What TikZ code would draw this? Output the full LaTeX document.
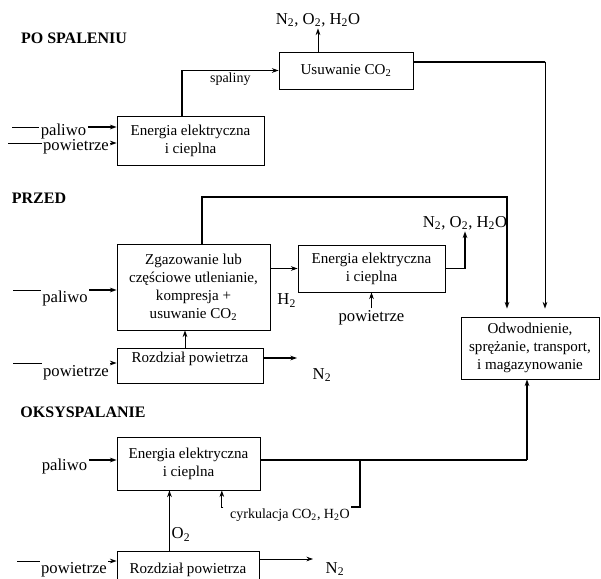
\documentclass[tikz,border=0pt]{standalone}
\usepackage{fontspec}
\setmainfont{Liberation Serif}
\usetikzlibrary{arrows.meta,positioning,calc}

\begin{document}
\begin{tikzpicture}[
  x=0.75pt, y=-0.75pt,
  >={Stealth[length=5pt,width=3.5pt]},
  box/.style={draw, line width=0.6pt, align=center, inner sep=2pt, font=\fontsize{11.3}{13.5}\selectfont},
  lab/.style={inner sep=1pt, font=\fontsize{12.5}{14}\selectfont},
  small/.style={inner sep=1pt, font=\fontsize{10.5}{12}\selectfont},
  title/.style={inner sep=1pt, font=\bfseries\fontsize{12}{14}\selectfont},
  ln/.style={line width=0.6pt},
  heavy/.style={line width=1.4pt}
]
\useasboundingbox (0,0) rectangle (601,579);

% po spaleniu
\node[title] (tpo) at (74,38) {PO SPALENIU};
\node[box, minimum width=100.5pt, minimum height=27.75pt] (usun) at (346,70.5) {Usuwanie CO\textsubscript{2}};
\node[box, minimum width=110.25pt, minimum height=36.75pt] (en1) at (190.5,140.5) {Energia elektryczna\\i cieplna};
\node[lab] (out1) at (318,20) {N\textsubscript{2}, O\textsubscript{2}, H\textsubscript{2}O};
\node[lab] (pal1) at (63.5,131) {paliwo};
\node[lab] (pow1) at (76,147) {powietrze};
\coordinate (pal1in) at (12,127);
\coordinate (pow1in) at (8,143);
\coordinate (co2r) at (545,62);

\draw[ln] (pal1in) -- (pal1in -| pal1.west);
\draw[heavy,->] (pal1in -| pal1.east) -- (pal1in -| en1.west);
\draw[ln] (pow1in) -- (pow1in -| pow1.west);
\draw[ln,->] (pow1in -| pow1.east) -- (pow1in -| en1.west);
\draw[heavy,->] ([xshift=-6.4pt]en1.north) |- node[small, below, pos=0.75] (spal) {spaliny} (usun.west);
\draw[ln,->] (usun.north -| out1.south) -- (out1.south);
\draw[heavy] ([yshift=6.4pt]usun.east) -- (co2r);

% przed
\node[title] (tprzed) at (39,198) {PRZED};
\node[box, minimum width=114.75pt, minimum height=64.5pt] (zgaz) at (193.5,287) {Zgazowanie lub\\częściowe utlenianie,\\kompresja +\\usuwanie CO\textsubscript{2}};
\node[box, minimum width=110.25pt, minimum height=35.25pt] (en2) at (371.5,268.5) {Energia elektryczna\\i cieplna};
\node[box, minimum width=109.5pt, minimum height=26.25pt, text height=8pt, text depth=12pt] (rozdz1) at (190,365.5) {Rozdział powietrza};
\node[box, minimum width=103.5pt, minimum height=46.5pt] (odw) at (530,348) {Odwodnienie,\\sprężanie, transport,\\i magazynowanie};
\node[lab] (out2) at (465,223) {N\textsubscript{2}, O\textsubscript{2}, H\textsubscript{2}O};
\node[lab, below=12pt of en2] (pow2) {powietrze};
\node[lab, anchor=north east] (h2) at (en2.south west) {H\textsubscript{2}};
\node[lab] (pal2) at (65,298) {paliwo};
\node[lab] (pow2l) at (76,373) {powietrze};
\node[lab] (n2a) at (322,375) {N\textsubscript{2}};
\coordinate (pal2in) at (13,290);
\coordinate (pow2in) at (13,363);
\coordinate (n2aend) at (297,358);
\coordinate (loop) at (507,197);

\draw[ln] (pal2in) -- (pal2in -| pal2.west);
\draw[heavy,->] (pal2in -| pal2.east) -- (pal2in -| zgaz.west);
\draw[ln] (pow2in) -- (pow2in -| pow2l.west);
\draw[ln,->] (pow2in -| pow2l.east) -- (pow2in -| rozdz1.west);
\draw[ln,->] ([xshift=-3.75pt]rozdz1.north) -- ([xshift=-3.75pt]rozdz1.north |- zgaz.south);
\draw[heavy,->] (n2aend -| rozdz1.east) -- (n2aend);
\draw[ln,->] (en2.west -| zgaz.east) -- (en2.west);
\draw[heavy,->] (en2.east) -| (out2.south);
\draw[ln,->] (pow2) -- (en2);
\draw[heavy,->,shorten >=6pt] ([xshift=6.4pt]zgaz.north) |- (loop) -- (loop |- odw.north);
\draw[ln,->,shorten >=6pt] (co2r) -- (co2r |- odw.north);

% oksyspalanie
\node[title] (toksy) at (83,412) {OKSYSPALANIE};
\node[box, minimum width=107.25pt, minimum height=39.75pt] (en3) at (188.5,463.5) {Energia elektryczna\\i cieplna};
\node[box, minimum width=106.5pt, minimum height=28.5pt] (rozdz2) at (188,570) {Rozdział powietrza};
\node[lab] (pal3) at (64.5,466) {paliwo};
\node[lab] (pow3) at (74,570) {powietrze};
\node[small] (cyrk) at (290,515) {cyrkulacja CO\textsubscript{2}, H\textsubscript{2}O};
\node[lab] (n2b) at (335,569) {N\textsubscript{2}};
\coordinate (pal3in) at (87,460);
\coordinate (pow3in) at (17,561);
\coordinate (n2bend) at (313,559);
\coordinate (rec) at (360,460);
\coordinate (oksyr) at (527,460);

\draw[heavy,->] (pal3in -| pal3.east) -- (pal3in -| en3.west);
\draw[ln] (pow3in) -- (pow3in -| pow3.west);
\draw[ln,->] (pow3in -| pow3.east) -- (pow3in -| rozdz2.west);
\draw[heavy] (en3.east |- oksyr) -- (oksyr);
\draw[heavy,->] (oksyr) -- (oksyr |- odw.south);
\draw[heavy] (rec) |- (cyrk.north east);
\draw[ln,->] ([xshift=-4pt]cyrk.north west) -| ([xshift=25pt]en3.south);
\draw[heavy,->] ([xshift=-13.9pt]rozdz2.north) -- node[lab, right, pos=0.27] (o2) {O\textsubscript{2}} ([xshift=-13.9pt]rozdz2.north |- en3.south);
\draw[ln,->] (n2bend -| rozdz2.east) -- (n2bend);

\end{tikzpicture}
\end{document}
